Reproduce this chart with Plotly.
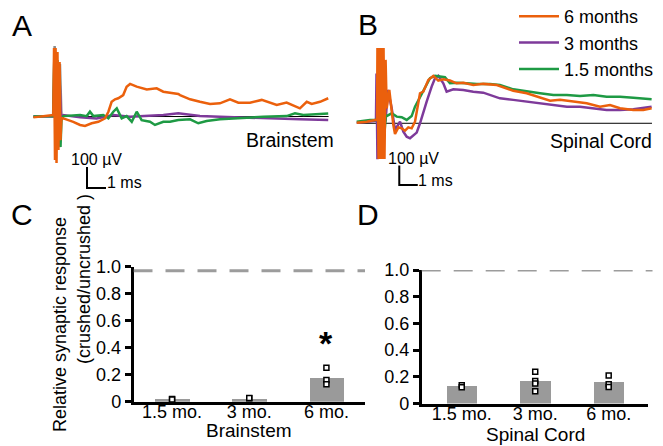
import plotly.graph_objects as go

W, H = 663, 446
FONT = "Liberation Sans, Arial, Helvetica, sans-serif"
ORANGE = "#EB600C"
PURPLE = "#7E3A9A"
GREEN = "#1E9A44"
GRAY_ART = "#8a8a8a"
BAR_GRAY = "#9a9a9a"

# ---------------- Panel A (Brainstem traces): time in ms, amplitude in uV
A_T_6MO = [-1.14, -0.62, -0.09, -0.05, 0.0, 0.03, 0.08, 0.13, 0.18, 0.24, 0.29, 0.34, 0.44, 0.96, 1.32,
           1.58, 1.93, 2.28, 2.63, 2.81, 2.98, 3.16, 3.33, 3.59, 3.77, 3.95, 4.30, 4.83, 5.35, 5.70, 6.05,
           6.49, 6.58, 7.11, 7.63, 8.16, 8.68, 9.21, 9.65, 10.26, 10.88, 11.32, 11.67, 12.19, 12.63,
           12.89, 13.25, 13.51, 13.95, 14.38]
A_UV_6MO = [-4, 2, 7, 326, -207, 326, -221, 307, -159, 259, -112, -7, -9, -25, -40,
            -45, -32, -25, -9, 23, 70, 82, 87, 102, 142, 155, 142, 129, 134, 118, 113,
            107, 102, 82, 70, 60, 63, 82, 66, 66, 79, 66, 55, 66, 47,
            39, 70, 60, 70, 87]
A_T_3MO = [-1.14, -0.09, 0.0, 0.11, 0.21, 0.32, 0.44, 1.32, 2.19, 3.07, 3.95, 4.83, 5.70, 6.49, 7.63,
           8.68, 10.09, 11.49, 12.89, 14.38]
A_UV_3MO = [0, 0, 269, -159, 245, -7, 7, -4, -9, 7, -1, 2, 7, 15, 2,
            -1, -4, -9, -13, -17]
A_T_15MO = [-1.14, -0.09, -0.03, 0.05, 0.13, 0.21, 0.29, 0.34, 0.44, 1.32, 1.67, 1.84, 2.02, 2.54, 2.81,
            3.07, 3.25, 3.51, 3.77, 4.04, 4.30, 4.56, 5.00, 5.26, 5.70, 6.05, 6.49, 7.11, 7.54, 7.98,
            8.68, 9.74, 10.96, 12.19, 12.63, 13.07, 13.95, 14.38]
A_UV_15MO = [0, 2, 317, -160, 269, -112, -145, -17, 2, 7, 2, 23, 2, 7, -9,
             23, 39, -9, 2, -25, 23, -17, -25, -40, -25, -25, -17, -13, -32, -21,
             -13, -6, -1, 2, 15, 7, 12, 15]
A_T_UNCR = [-0.10, -0.02, 0.05, 0.15, 0.26, 0.34]
A_UV_UNCR = [0, 335, 250, 200, 250, 0]

# ---------------- Panel B (Spinal cord traces)
B_T_6MO = [-1.15, -0.61, -0.16, -0.05, -0.03, 0.03, 0.08, 0.14, 0.19, 0.24, 0.30, 0.35, 0.41, 0.47,
           0.61, 0.74, 0.83, 0.92, 1.10, 1.28, 1.46, 1.64, 1.82, 2.00, 2.09, 2.27, 2.45, 2.72, 2.99,
           3.26, 3.53, 3.89, 4.25, 4.61, 5.15, 5.69, 6.42, 6.59, 7.31, 8.04, 8.76, 9.30, 9.84, 10.56,
           11.28, 12.00, 12.54, 13.08, 13.80, 14.34, 14.79]
B_UV_6MO = [3, 8, 17, 17, 386, -183, 386, -183, 386, -183, 386, -183, 325, 77,
            171, 60, -9, -55, -21, -26, -38, -21, -26, 8, 60, 154, 162, 222, 243,
            219, 226, 219, 205, 208, 196, 202, 196, 191, 167, 154, 133, 116, 120, 111,
            103, 85, 94, 77, 68, 68, 77]
B_T_3MO = [-1.15, -0.61, -0.16, -0.11, -0.08, -0.03, 0.03, 0.41, 0.54, 0.74, 0.92, 1.10, 1.19, 1.37,
           1.55, 1.73, 1.91, 2.09, 2.27, 2.45, 2.63, 2.90, 3.08, 3.26, 3.53, 3.71, 4.07, 4.61, 5.15,
           5.69, 6.42, 6.59, 7.31, 8.04, 8.76, 9.48, 10.21, 10.92, 11.64, 12.36, 13.08, 13.80, 14.79]
B_UV_3MO = [2, 7, 12, 12, 255, -184, -137, 17, 171, 77, -34, -9, 8, -43,
            -69, -77, -60, -48, 0, 60, 111, 188, 231, 243, 205, 162, 174, 171, 162,
            157, 136, 128, 120, 111, 106, 94, 85, 85, 77, 68, 68, 72, 85]
B_T_15MO = [-1.15, -0.43, -0.05, 0.11, 0.27, 0.43, 0.47, 0.74, 1.01, 1.28, 1.55, 1.82, 2.00, 2.27,
            2.54, 2.81, 3.08, 3.35, 3.62, 3.89, 4.25, 4.79, 5.34, 6.05, 6.59, 7.31, 8.04, 8.76, 9.48,
            10.21, 10.92, 11.64, 12.36, 13.08, 13.80, 14.79]
B_UV_15MO = [8, 17, 17, 325, -137, 43, 37, 51, 34, 31, 17, 37, 85, 136,
             188, 231, 243, 239, 236, 205, 208, 205, 202, 202, 196, 174, 162, 154, 145,
             145, 140, 145, 136, 136, 131, 123]

# ---------------- Panels C & D (relative synaptic response)
CATEGORIES = ["1.5 mo.", "3 mo.", "6 mo."]
C_MEANS = [0.02, 0.025, 0.178]
C_POINTS = [[0.02, 0.017], [0.025, 0.028], [0.252, 0.16, 0.13]]
D_MEANS = [0.13, 0.167, 0.162]
D_POINTS = [[0.137, 0.122], [0.237, 0.169, 0.15, 0.092], [0.21, 0.145, 0.124]]
C_CONTROL = 0.97
D_CONTROL = 1.0
Y_TICKS = [0, 0.2, 0.4, 0.6, 0.8, 1.0]
Y_TICKTEXT = ["0", "0.2", "0.4", "0.6", "0.8", "1.0"]
SCALE_MS = 1
SCALE_UV = 100


def hx(p):
    return p / W


def vy(p):
    return 1 - p / H


fig = go.Figure()

# Panel A traces
fig.add_trace(go.Scatter(x=[-1.1, 14.4], y=[0, 0], mode="lines", line=dict(color="black", width=1),
                         xaxis="x", yaxis="y", showlegend=False, hoverinfo="skip"))
fig.add_trace(go.Scatter(x=A_T_UNCR, y=A_UV_UNCR, mode="lines", line=dict(color=GRAY_ART, width=2.5),
                         xaxis="x", yaxis="y", showlegend=False))
fig.add_trace(go.Scatter(x=A_T_3MO, y=A_UV_3MO, mode="lines", line=dict(color=PURPLE, width=2.5),
                         xaxis="x", yaxis="y", showlegend=False))
fig.add_trace(go.Scatter(x=A_T_15MO, y=A_UV_15MO, mode="lines", line=dict(color=GREEN, width=2.5),
                         xaxis="x", yaxis="y", showlegend=False))
fig.add_trace(go.Scatter(x=A_T_6MO, y=A_UV_6MO, mode="lines", line=dict(color=ORANGE, width=2.5),
                         xaxis="x", yaxis="y", showlegend=False))
# scale bar A
a_sx, a_sy = 1.684, -340
fig.add_trace(go.Scatter(x=[a_sx, a_sx, a_sx + SCALE_MS], y=[a_sy + SCALE_UV, a_sy, a_sy], mode="lines",
                         line=dict(color="black", width=2), xaxis="x", yaxis="y", showlegend=False))

# Panel B traces
fig.add_trace(go.Scatter(x=[-1.14, 14.81], y=[0, 0], mode="lines", line=dict(color="black", width=1),
                         xaxis="x2", yaxis="y2", showlegend=False, hoverinfo="skip"))
fig.add_trace(go.Scatter(x=B_T_3MO, y=B_UV_3MO, mode="lines", name="3 months", legendrank=2,
                         line=dict(color=PURPLE, width=2.5), xaxis="x2", yaxis="y2"))
fig.add_trace(go.Scatter(x=B_T_15MO, y=B_UV_15MO, mode="lines", name="1.5 months", legendrank=3,
                         line=dict(color=GREEN, width=2.5), xaxis="x2", yaxis="y2"))
fig.add_trace(go.Scatter(x=B_T_6MO, y=B_UV_6MO, mode="lines", name="6 months", legendrank=1,
                         line=dict(color=ORANGE, width=2.5), xaxis="x2", yaxis="y2"))
b_sx, b_sy = 1.15, -316
fig.add_trace(go.Scatter(x=[b_sx, b_sx, b_sx + SCALE_MS], y=[b_sy + SCALE_UV, b_sy, b_sy], mode="lines",
                         line=dict(color="black", width=2), xaxis="x2", yaxis="y2", showlegend=False))

# Panels C & D bars + points
marker_style = dict(symbol="square", size=5, color="white", line=dict(color="black", width=1.5))
for means, points, xa, ya, bw in [(C_MEANS, C_POINTS, "x3", "y3", 0.45), (D_MEANS, D_POINTS, "x4", "y4", 0.42)]:
    fig.add_trace(go.Bar(x=list(range(len(CATEGORIES))), y=means, width=bw, marker=dict(color=BAR_GRAY, line=dict(width=0)),
                         xaxis=xa, yaxis=ya, showlegend=False))
    px_, py_ = [], []
    for i, vals in enumerate(points):
        px_ += [i] * len(vals)
        py_ += vals
    fig.add_trace(go.Scatter(x=px_, y=py_, mode="markers", marker=marker_style, xaxis=xa, yaxis=ya,
                             showlegend=False, cliponaxis=False))

hidden = dict(visible=False, showgrid=False, zeroline=False, fixedrange=True)
tick_font = dict(family=FONT, size=18, color="black")
bar_y = dict(range=[0, 1.0], tickvals=Y_TICKS, ticktext=Y_TICKTEXT, ticks="outside", ticklen=6, tickwidth=2.5,
             tickcolor="black", showline=True, linewidth=2.5, linecolor="black", showgrid=False, zeroline=False,
             tickfont=tick_font, fixedrange=True)
bar_x = dict(tickvals=[0, 1, 2], ticktext=CATEGORIES, ticks="", showline=True, linewidth=2.5, linecolor="black",
             showgrid=False, zeroline=False, tickfont=tick_font, ticklabelstandoff=-8, fixedrange=True)

fig.update_layout(
    width=W, height=H, margin=dict(l=0, r=0, t=0, b=0, autoexpand=False),
    paper_bgcolor="white", plot_bgcolor="white",
    font=dict(family=FONT, size=18, color="black"),
    xaxis=dict(domain=[hx(0), hx(340)], range=[-2.895, 15.0], **hidden),
    yaxis=dict(domain=[vy(200), vy(40)], range=[-397, 364], **hidden),
    xaxis2=dict(domain=[hx(340), hx(663)], range=[-2.054, 15.405], **hidden),
    yaxis2=dict(domain=[vy(200), vy(40)], range=[-393.5, 427], **hidden),
    xaxis3=dict(domain=[hx(133.5), hx(365)], range=[-0.5, 2.5], anchor="y3", **bar_x),
    yaxis3=dict(domain=[vy(401.7), vy(266.7)], anchor="x3", **bar_y),
    xaxis4=dict(domain=[hx(421.7), hx(648)], range=[-0.545, 2.535], anchor="y4", **bar_x),
    yaxis4=dict(domain=[vy(403.5), vy(270)], anchor="x4", **bar_y),
    legend=dict(x=hx(514), y=vy(-2), xanchor="left", yanchor="top", font=dict(family=FONT, size=18),
                bgcolor="rgba(0,0,0,0)", itemwidth=40, tracegroupgap=0),
    showlegend=True,
    bargap=0,
)

fig.add_shape(type="line", xref="x3", yref="y3", x0=-0.5, x1=2.5, y0=C_CONTROL, y1=C_CONTROL,
              line=dict(color="#9c9c9c", width=3, dash="19px,13px"))
fig.add_shape(type="line", xref="x4 domain", yref="y4", x0=0, x1=1.02, y0=D_CONTROL, y1=D_CONTROL,
              line=dict(color="#9c9c9c", width=3, dash="19px,13px"))

ann = []
for letter, x, y in [("A", 22, 25), ("B", 368, 24), ("C", 22, 214), ("D", 368, 214)]:
    ann.append(dict(text=letter, x=hx(x), y=vy(y), xref="paper", yref="paper", showarrow=False,
                    xanchor="center", yanchor="middle", font=dict(family=FONT, size=30)))
for txt, x, y, sz in [("100 µV", 96.5, 159, 16), ("1 ms", 124, 183, 16), ("Brainstem", 290, 140, 19.5),
                      ("100 µV", 413, 158.5, 16), ("1 ms", 435, 181, 16), ("Spinal Cord", 601, 141, 19.5)]:
    ann.append(dict(text=txt, x=hx(x), y=vy(y), xref="paper", yref="paper", showarrow=False,
                    xanchor="center", yanchor="middle", font=dict(family=FONT, size=sz)))
for txt, x, y in [("Brainstem", 249, 430), ("Spinal Cord", 535, 434.5)]:
    ann.append(dict(text=txt, x=hx(x), y=vy(y), xref="paper", yref="paper", showarrow=False,
                    xanchor="center", yanchor="middle", borderpad=0, font=dict(family=FONT, size=19)))
ann.append(dict(text="Relative synaptic response", x=hx(60), y=vy(325), xref="paper", yref="paper",
                showarrow=False, textangle=-90, xanchor="center", yanchor="middle", font=dict(family=FONT, size=18)))
ann.append(dict(text="(crushed/uncrushed )", x=hx(84), y=vy(279), xref="paper", yref="paper",
                showarrow=False, textangle=-90, xanchor="center", yanchor="middle", font=dict(family=FONT, size=18)))
ann.append(dict(text="<b>*</b>", x=2, y=0.45, xref="x3", yref="y3", showarrow=False, yshift=-2,
                font=dict(family=FONT, size=34)))
fig.update_layout(annotations=ann)

fig.write_html("out.html", config={"displayModeBar": False},
               post_script="document.body.style.margin='0px';")
